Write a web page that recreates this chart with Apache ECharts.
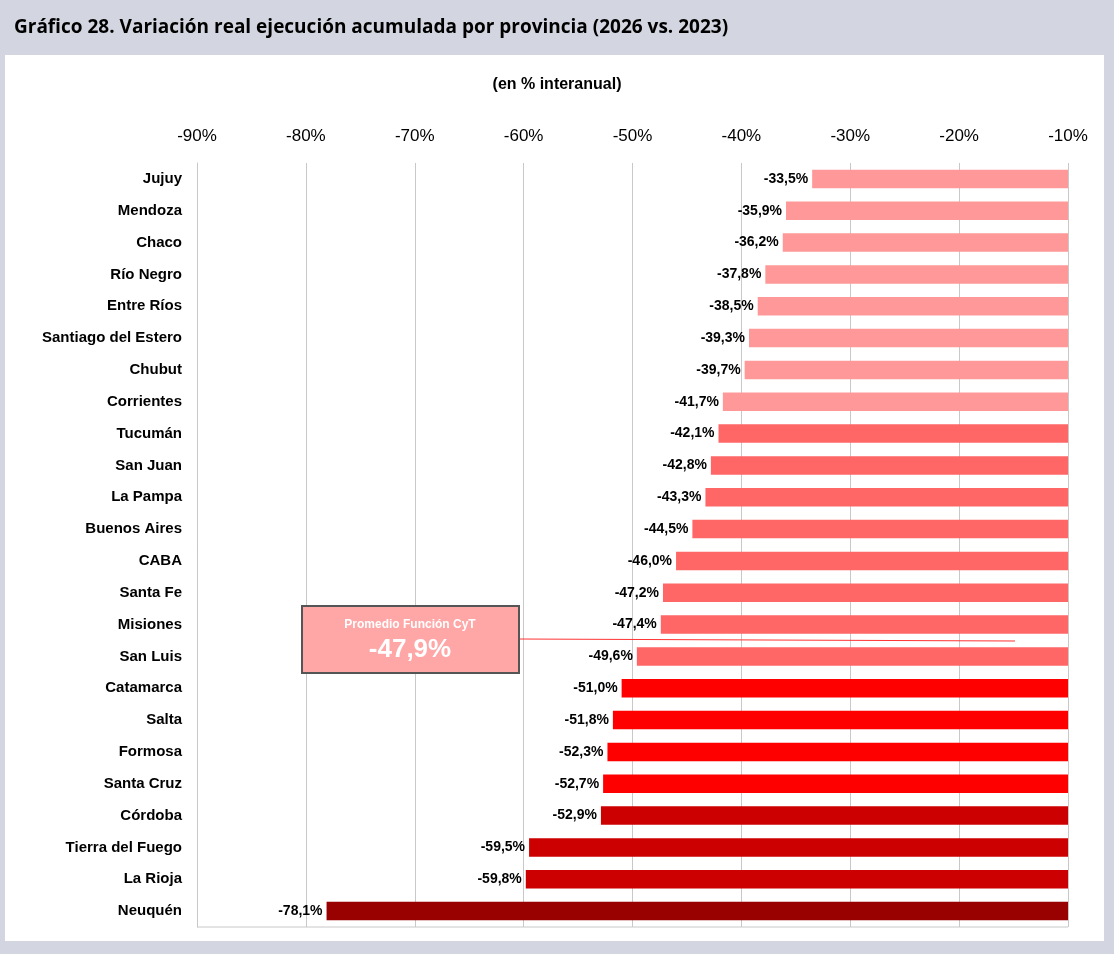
<!DOCTYPE html>
<html>
<head>
<meta charset="utf-8">
<script src="https://cdn.jsdelivr.net/npm/echarts@6/dist/echarts.min.js"></script>
<style>
html,body{margin:0;padding:0;background:#d3d6e0;}
#main{width:1114px;height:954px;}
</style>
</head>
<body>
<div id="main"></div>
<script>
var provincias = ['Jujuy','Mendoza','Chaco','Río Negro','Entre Ríos','Santiago del Estero','Chubut','Corrientes',
    'Tucumán','San Juan','La Pampa','Buenos Aires','CABA','Santa Fe','Misiones','San Luis',
    'Catamarca','Salta','Formosa','Santa Cruz','Córdoba','Tierra del Fuego','La Rioja','Neuquén'];
var variacion = [-33.5,-35.9,-36.2,-37.8,-38.5,-39.3,-39.7,-41.7,
    -42.1,-42.8,-43.3,-44.5,-46.0,-47.2,-47.4,-49.6,
    -51.0,-51.8,-52.3,-52.7,-52.9,-59.5,-59.8,-78.1];
var colores = ['#ff9999','#ff9999','#ff9999','#ff9999','#ff9999','#ff9999','#ff9999','#ff9999',
    '#ff6666','#ff6666','#ff6666','#ff6666','#ff6666','#ff6666','#ff6666','#ff6666',
    '#ff0000','#ff0000','#ff0000','#ff0000','#cc0000','#cc0000','#cc0000','#990000'];
var ticks = [-90,-80,-70,-60,-50,-40,-30,-20,-10];
var promedio = -47.9;
var base = -10; // bars grow leftwards from -10%

function fmt(v){ return v.toFixed(1).replace('.', ',') + '%'; }

var datos = [];
for (var i = 0; i < variacion.length; i++) {
    datos.push({
        value: variacion[i] - base,
        real: variacion[i],
        itemStyle: { color: colores[i] }
    });
}

var chart = echarts.init(document.getElementById('main'));
chart.setOption({
    backgroundColor: '#d3d6e0',
    animation: false,
    graphic: [
        { type: 'rect', shape: { x: 5, y: 55, width: 1099, height: 886 }, style: { fill: '#ffffff' }, z: -10 },
        { type: 'text', left: 14, top: 18, style: { text: 'Gráfico 28. Variación real ejecución acumulada por provincia (2026 vs. 2023)',
            font: 'bold 19px "Open Sans", sans-serif', fill: '#000' } },
        { type: 'text', left: 'center', top: 77, style: { text: '(en % interanual)',
            font: 'bold 16px Arial, "Liberation Sans", sans-serif', fill: '#000' } },
        { type: 'line', shape: { x1: 197, y1: 927, x2: 1068, y2: 927 }, style: { stroke: '#c8c8c8', lineWidth: 1 } },
        { type: 'line', shape: { x1: 519, y1: 639, x2: 1015, y2: 641 }, style: { stroke: '#ff3333', lineWidth: 1 }, z: 20 },
        { type: 'rect', shape: { x: 302, y: 606, width: 217, height: 67 }, style: { fill: '#ffa6a6', stroke: '#555', lineWidth: 2 }, z: 20 },
        { type: 'text', x: 410, y: 625, style: { text: 'Promedio Función CyT', align: 'center', verticalAlign: 'middle',
            font: 'bold 12px Arial, "Liberation Sans", sans-serif', fill: '#fff' }, z: 21 },
        { type: 'text', x: 410, y: 650, style: { text: fmt(promedio), align: 'center', verticalAlign: 'middle',
            font: 'bold 26px Arial, "Liberation Sans", sans-serif', fill: '#fff' }, z: 21 }
    ],
    grid: { left: 197, right: 46, top: 163, bottom: 27 },
    xAxis: {
        type: 'value',
        position: 'top',
        min: ticks[0] - base,
        max: ticks[ticks.length - 1] - base,
        interval: 10,
        axisLine: { show: false },
        axisTick: { show: false },
        axisLabel: { formatter: function(v){ return Math.round(v + base) + '%'; },
            fontSize: 17, color: '#000', fontFamily: 'Arial, "Liberation Sans", sans-serif', margin: 18 },
        splitLine: { lineStyle: { color: '#c8c8c8' } }
    },
    yAxis: {
        type: 'category',
        inverse: true,
        data: provincias,
        position: 'left',
        axisLine: { show: true, onZero: false, lineStyle: { color: '#c8c8c8' } },
        axisTick: { show: false },
        axisLabel: { fontSize: 15, fontWeight: 'bold', color: '#000', margin: 15,
            fontFamily: 'Arial, "Liberation Sans", sans-serif' }
    },
    series: [{
        type: 'bar',
        data: datos,
        barWidth: '58%',
        label: {
            show: true,
            position: 'left',
            distance: 4,
            formatter: function(p){ return fmt(p.data.real); },
            fontSize: 14, fontWeight: 'bold', color: '#000',
            fontFamily: 'Arial, "Liberation Sans", sans-serif'
        }
    }]
});
</script>
</body>
</html>
